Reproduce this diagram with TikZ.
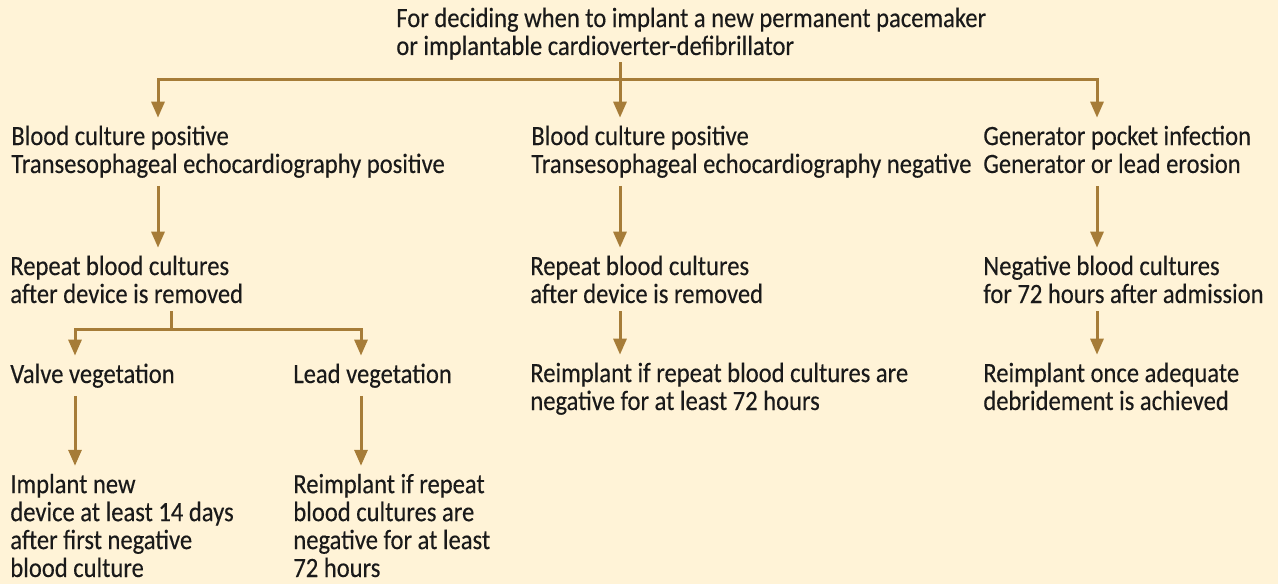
\documentclass[tikz,border=0pt]{standalone}
\usepackage{fontspec}
\setmainfont{Carlito}[FakeStretch=0.88,FakeBold=0.3]
\usetikzlibrary{arrows.meta}

\definecolor{cream}{HTML}{FFF3D7}
\definecolor{rust}{HTML}{A67C38}
\definecolor{ink}{HTML}{1A1A1A}

\begin{document}
\begin{tikzpicture}[
    x=0.02cm,y=-0.02cm,
    txt/.style={anchor=base west,align=left,inner sep=0pt,outer ysep=8*0.02cm,text=ink,
      font=\fontsize{15.9pt}{15.9pt}\selectfont},
    ln/.style={draw=rust,line width=0.06cm},
    arr/.style={ln,-{Triangle[width=0.26cm,length=0.32cm]}},
  ]

  \fill[cream] (0,0) rectangle (1278,584);
  \useasboundingbox (0,0) rectangle (1278,584);

  % nodes sit on the baseline of their last line
  \node (title) at (396,55) [txt,outer ysep=3*0.02cm] {For deciding when to implant a new permanent pacemaker\\or implantable cardioverter-defibrillator};

  % first row
  \node (a-1) at (11,173) [txt] {Blood culture positive\\Transesophageal echocardiography positive};
  \node (a-2) at (531,173) [txt] {Blood culture positive\\Transesophageal echocardiography negative};
  \node (a-3) at (983,173) [txt] {Generator pocket infection\\Generator or lead erosion};

  % second row
  \node (b-1) at (10,303) [txt] {Repeat blood cultures\\after device is removed};
  \node (b-2) at (530,303) [txt] {Repeat blood cultures\\after device is removed};
  \node (b-3) at (983,303) [txt] {Negative blood cultures\\for 72 hours after admission};

  % third row
  \node (c-1) at (10,383) [txt] {Valve vegetation};
  \node (c-2) at (293,383) [txt] {Lead vegetation};
  \node (c-3) at (530,410) [txt] {Reimplant if repeat blood cultures are\\negative for at least 72 hours};
  \node (c-4) at (983,410) [txt] {Reimplant once adequate\\debridement is achieved};

  % last row
  \node (d-1) at (10,577) [txt] {Implant new\\device at least 14 days\\after first negative\\blood culture};
  \node (d-2) at (293,577) [txt] {Reimplant if repeat\\blood cultures are\\negative for at least\\72 hours};

  \coordinate (top-1) at (158,80);
  \coordinate (top-2) at (620,80);
  \coordinate (top-3) at (1097,80);

  \draw[arr] (title.south -| top-2) -- (a-2.north -| top-2);
  \draw[arr] (top-2) -| (a-1.north -| top-1);
  \draw[arr] (top-2) -| (a-3.north -| top-3);

  \draw[arr] (a-1.south -| top-1) -- (b-1.north -| top-1);
  \draw[arr] (a-2.south -| top-2) -- (b-2.north -| top-2);
  \draw[arr,shorten <=5*0.02cm] (a-3.south -| top-3) -- (b-3.north -| top-3);

  \coordinate (fork) at (171,329);
  \coordinate (fork-l) at (75,329);
  \coordinate (fork-r) at (361,329);

  \draw[ln] (b-1.south -| fork) -- (fork);
  \draw[arr] (fork) -| (c-1.north -| fork-l);
  \draw[arr] (fork) -| (c-2.north -| fork-r);

  \draw[arr] (b-2.south -| top-2) -- (c-3.north -| top-2);
  \draw[arr] (b-3.south -| top-3) -- (c-4.north -| top-3);

  \draw[arr] (c-1.south -| fork-l) -- (d-1.north -| fork-l);
  \draw[arr] (c-2.south -| fork-r) -- (d-2.north -| fork-r);

\end{tikzpicture}
\end{document}
